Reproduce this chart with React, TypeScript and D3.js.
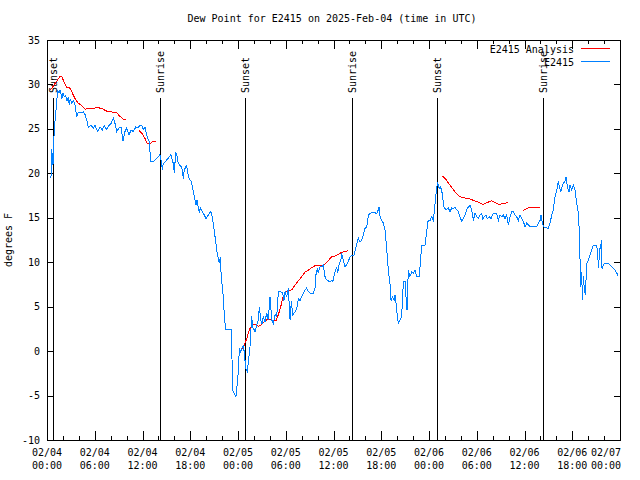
import React from 'react';
import * as d3 from 'd3';

const W = 640;
const H = 480;
const PLOT = { left: 47, right: 620, top: 40, bottom: 440 };
const FONT = '"DejaVu Sans Mono", monospace';

const titleText = 'Dew Point for E2415 on 2025-Feb-04 (time in UTC)';
const yLabel = 'degrees F';
const startUTC = Date.UTC(2025, 1, 4, 0, 0);
const spanHours = 72;
const yDomain: [number, number] = [-10, 35];
const yTickValues = [-10, -5, 0, 5, 10, 15, 20, 25, 30, 35];

// Sun events: [label, hours after 02/04 00:00 UTC]
const sunEvents: [string, number][] = [
  ['Sunset', 0.79], ['Sunrise', 14.21], ['Sunset', 24.92],
  ['Sunrise', 38.36], ['Sunset', 49.04], ['Sunrise', 62.37],
];

// E2415 observations: [hour, dew point F]
const obs: [number, number][] = [
  [0.50, 19.5], [0.59, 22.7], [0.75, 20.9], [0.92, 25.1], [1.09, 26.6], [1.34, 29.4], [1.51, 29.0], [1.67, 29.4],
  [1.85, 28.4], [2.01, 29.0], [2.17, 28.6], [2.35, 28.8], [2.51, 28.1], [2.68, 28.6], [2.80, 27.7], [2.93, 28.4],
  [3.10, 27.9], [3.30, 28.2], [3.52, 27.7], [3.73, 26.4], [3.93, 26.9], [4.27, 26.8], [4.56, 26.9], [4.78, 26.6],
  [4.99, 26.0], [5.19, 25.2], [5.53, 25.4], [5.82, 25.1], [6.03, 25.4], [6.37, 24.7], [6.66, 25.2], [6.95, 24.9],
  [7.20, 25.4], [7.50, 24.9], [7.79, 25.4], [8.04, 25.6], [8.33, 26.2], [8.55, 25.6], [8.76, 24.7], [9.05, 25.1],
  [9.30, 25.2], [9.55, 23.6], [9.80, 24.7], [10.02, 25.1], [10.30, 24.3], [10.56, 24.9], [10.84, 24.7], [11.15, 25.2],
  [11.40, 25.1], [11.69, 25.4], [11.90, 25.4], [12.10, 24.9], [12.31, 25.2], [12.53, 24.3], [12.82, 23.6], [13.07, 21.3],
  [13.36, 21.3], [13.78, 21.7], [13.99, 21.9], [14.20, 22.1], [14.41, 21.1], [14.49, 20.4], [14.61, 21.1], [15.04, 21.5],
  [15.58, 22.1], [15.87, 21.1], [16.00, 20.0], [16.17, 22.4], [16.34, 21.9], [16.50, 21.1], [16.71, 20.9], [16.93, 20.7],
  [17.13, 19.4], [17.25, 20.4], [17.43, 20.7], [17.56, 20.9], [17.68, 20.0], [17.88, 19.4], [18.10, 19.1], [18.26, 18.5],
  [18.43, 17.8], [18.60, 17.0], [18.72, 16.4], [18.85, 17.0], [19.01, 16.2], [19.14, 15.5], [19.26, 16.1], [19.52, 15.7],
  [19.77, 15.3], [19.98, 14.9], [20.27, 15.3], [20.57, 15.7], [20.77, 15.1], [20.95, 14.0], [21.11, 12.9], [21.32, 11.4],
  [21.53, 10.4], [21.65, 9.9], [21.78, 10.6], [21.87, 8.8], [22.03, 7.2], [22.16, 6.1], [22.28, 3.9], [22.46, 2.4],
  [23.16, 2.4], [23.25, -1.0], [23.34, -4.4], [23.62, -4.9], [23.75, -5.1], [23.91, -3.6], [24.04, -2.3], [24.17, 0.3],
  [24.34, -0.1], [24.50, 0.3], [24.67, 0.7], [24.79, -0.2], [24.97, -1.9], [25.17, -2.3], [25.35, -0.8], [25.51, 0.5],
  [25.72, 3.9], [25.85, 2.7], [26.14, 2.2], [26.35, 2.9], [26.55, 3.5], [26.68, 5.0], [26.85, 3.5], [27.02, 3.1],
  [27.18, 3.9], [27.39, 3.3], [27.61, 4.3], [27.81, 3.5], [28.02, 6.1], [28.24, 3.5], [28.44, 3.1], [28.65, 4.1],
  [28.86, 3.9], [29.07, 6.7], [29.37, 6.7], [29.62, 6.5], [29.78, 5.7], [29.91, 6.7], [30.12, 6.1], [30.32, 7.1],
  [30.54, 3.5], [30.70, 5.6], [30.88, 4.1], [31.16, 4.4], [31.38, 4.8], [31.58, 5.9], [31.79, 5.7], [32.01, 6.1],
  [32.30, 6.7], [32.63, 7.1], [32.84, 6.7], [33.14, 6.5], [33.46, 6.5], [33.68, 7.1], [33.80, 8.6], [33.97, 9.3],
  [34.09, 8.8], [34.31, 9.5], [34.52, 9.5], [34.72, 9.7], [34.93, 8.4], [35.14, 8.0], [35.56, 7.8], [35.78, 8.0],
  [35.90, 7.8], [36.19, 8.9], [36.40, 9.5], [36.53, 8.8], [36.73, 9.9], [36.91, 10.1], [37.03, 11.0], [37.23, 10.2],
  [37.45, 9.5], [37.66, 9.7], [37.86, 10.1], [38.08, 10.6], [38.29, 10.8], [38.58, 10.8], [38.92, 12.1], [39.12, 12.7],
  [39.33, 12.3], [39.55, 12.5], [39.75, 13.1], [39.96, 13.8], [40.18, 14.0], [40.38, 15.3], [40.59, 15.5], [41.00, 15.6],
  [41.43, 15.5], [41.63, 15.9], [41.72, 16.2], [41.85, 15.1], [42.06, 14.7], [42.26, 14.4], [42.48, 13.6], [42.69, 11.4],
  [42.89, 9.1], [43.10, 7.6], [43.23, 5.7], [43.39, 6.1], [43.61, 5.7], [43.73, 6.3], [43.86, 5.4], [44.02, 3.9],
  [44.15, 3.1], [44.36, 3.5], [44.57, 3.9], [44.70, 6.7], [44.82, 7.8], [44.99, 7.8], [45.11, 6.1], [45.24, 4.6],
  [45.40, 9.1], [45.61, 8.4], [45.83, 8.9], [46.03, 8.8], [46.24, 9.1], [46.46, 8.4], [46.75, 8.4], [46.87, 9.5],
  [47.09, 11.9], [47.50, 11.9], [47.71, 13.4], [47.84, 14.6], [48.13, 14.7], [48.34, 15.1], [48.54, 14.7], [48.67, 15.7],
  [48.85, 17.4], [48.97, 18.5], [49.10, 18.9], [49.26, 18.3], [49.42, 18.5], [49.60, 18.1], [49.72, 17.2], [49.89, 16.2],
  [50.14, 15.9], [50.43, 16.1], [50.64, 15.7], [50.86, 16.1], [51.06, 16.0], [51.27, 16.2], [51.48, 15.9], [51.69, 15.7],
  [51.90, 15.1], [52.11, 14.6], [52.31, 14.9], [52.53, 15.3], [52.74, 15.9], [52.94, 16.2], [53.16, 16.4], [53.37, 15.9],
  [53.57, 14.7], [53.78, 15.5], [54.00, 15.1], [54.20, 14.9], [54.41, 15.3], [54.63, 15.5], [54.75, 14.9], [54.95, 15.1],
  [55.17, 15.3], [55.33, 14.9], [55.58, 15.1], [55.79, 14.9], [56.08, 15.5], [56.51, 15.5], [56.71, 14.7], [56.92, 15.3],
  [57.14, 15.1], [57.34, 15.3], [57.55, 14.9], [57.77, 15.3], [57.97, 14.2], [58.18, 15.1], [58.39, 15.7], [58.60, 15.7],
  [58.81, 15.3], [59.02, 15.1], [59.23, 14.7], [59.44, 15.3], [59.65, 14.9], [59.85, 14.6], [60.07, 14.0], [60.28, 14.4],
  [60.48, 14.2], [60.69, 14.0], [61.54, 14.0], [61.74, 14.4], [61.95, 14.7], [62.08, 15.3], [62.20, 14.6], [62.37, 14.0],
  [62.99, 13.8], [63.21, 14.4], [63.42, 15.3], [63.62, 15.9], [63.84, 17.4], [64.05, 18.1], [64.25, 19.1], [64.38, 18.5],
  [64.55, 17.9], [64.72, 18.5], [64.88, 18.9], [65.09, 19.1], [65.22, 19.6], [65.38, 18.5], [65.60, 17.9], [65.72, 18.7],
  [65.94, 18.1], [66.14, 18.7], [66.35, 18.1], [66.56, 16.6], [66.77, 15.5], [66.89, 13.3], [66.98, 10.2], [67.07, 7.2],
  [67.19, 8.9], [67.27, 5.7], [67.40, 8.4], [67.52, 6.9], [67.65, 6.3], [67.73, 8.0], [67.82, 9.9], [68.02, 10.2],
  [68.23, 10.8], [68.45, 11.4], [68.65, 11.9], [69.08, 11.9], [69.20, 10.6], [69.33, 9.3], [69.40, 11.4], [69.58, 11.7],
  [69.65, 12.5], [69.74, 9.3], [69.91, 9.7], [70.12, 9.9], [70.54, 9.9], [70.75, 9.7], [71.16, 9.3], [71.38, 9.1],
  [71.59, 8.8], [71.79, 8.4],
];

// E2415 Analysis: segments separated by gaps
const analysisA: [number, number][] = [
  [0.45, 29.4], [1.01, 30.1], [1.63, 30.9], [1.85, 30.9], [2.14, 30.3], [2.48, 29.7], [2.80, 29.7], [3.10, 29.2],
  [3.52, 28.4], [3.93, 27.9], [4.36, 27.6], [4.78, 27.2], [5.19, 27.3], [5.82, 27.3], [6.32, 27.4], [6.87, 27.3],
  [7.50, 27.0], [8.13, 26.9], [8.76, 26.8], [9.17, 26.4], [9.59, 26.1], [9.93, 26.1],
];
const analysisB: [number, number][] = [
  [11.60, 24.8], [12.03, 24.4], [12.32, 23.9], [12.60, 23.3], [13.03, 23.4], [13.36, 23.6], [13.70, 23.6],
];
const analysisC: [number, number][] = [
  [24.57, 0.2], [24.88, 0.9], [25.10, 1.4], [25.43, 2.4], [25.72, 2.9], [26.14, 3.0], [26.55, 2.8], [26.98, 3.0],
  [27.39, 3.4], [27.81, 3.6], [28.24, 3.5], [28.78, 3.4], [29.07, 4.1], [29.37, 5.0], [29.69, 6.2], [30.03, 6.7],
  [30.45, 6.8], [30.75, 6.9], [31.16, 7.4], [31.58, 7.9], [32.01, 8.4], [32.42, 8.9], [32.84, 9.1], [33.26, 9.4],
  [33.68, 9.6], [34.72, 9.6], [35.06, 9.9], [35.35, 10.2], [35.78, 10.6], [36.19, 10.7], [36.61, 10.9], [37.03, 11.1],
  [37.45, 11.2], [37.86, 11.3],
];
const analysisD: [number, number][] = [
  [49.72, 19.7], [50.14, 19.3], [50.43, 18.9], [50.86, 18.4], [51.27, 17.9], [51.69, 17.5], [52.11, 17.3], [52.65, 17.2],
  [53.16, 17.1], [53.78, 16.9], [54.32, 16.7], [54.82, 16.5], [55.25, 16.7], [55.88, 16.9], [56.30, 16.7], [56.84, 16.5],
  [57.34, 16.6], [57.97, 16.7],
];
const analysisE: [number, number][] = [
  [59.78, 15.8], [60.19, 16.0], [60.69, 16.2], [61.95, 16.2],
];
const analysisSegments = [analysisA, analysisB, analysisC, analysisD, analysisE];

const seriesNames = ['E2415 Analysis', 'E2415'];
const seriesColors = ['#ff0000', '#0080ff'];

const toDate = (h: number) => new Date(startUTC + h * 3600 * 1000);

export default function App() {
  const x = d3.scaleUtc()
    .domain([toDate(0), toDate(spanHours)])
    .range([PLOT.left, PLOT.right]);
  const y = d3.scaleLinear().domain(yDomain).range([PLOT.bottom, PLOT.top]);

  const line = d3.line<[number, number]>()
    .x((d) => x(toDate(d[0])))
    .y((d) => y(d[1]));

  const majorTicks = x.ticks(d3.utcHour.every(6)!);
  const minorTicks = x.ticks(d3.utcHour.every(2)!).filter((t) => t.getUTCHours() % 6 !== 0);
  const fmtDay = d3.utcFormat('%m/%d');
  const fmtTime = d3.utcFormat('%H:%M');

  const majorLen = 9;
  const minorLen = 4;
  const yTickLen = 6;

  return (
    <svg width={W} height={H} style={{ position: 'absolute', left: 0, top: 0, background: '#fff' }}
      fontFamily={FONT} fontSize={10}>
      <rect x={0} y={0} width={W} height={H} fill="#fff" />
      <text x={332} y={22} textAnchor="middle" fill="#000">{titleText}</text>
      <text transform={`translate(12,${(PLOT.top + PLOT.bottom) / 2}) rotate(-90)`} textAnchor="middle" fill="#000">{yLabel}</text>

      {/* y ticks */}
      {yTickValues.map((v) => (
        <g key={`y${v}`} shapeRendering="crispEdges">
          <line x1={PLOT.left} x2={PLOT.left + yTickLen} y1={Math.round(y(v)) + 0.5} y2={Math.round(y(v)) + 0.5} stroke="#000" />
          <line x1={PLOT.right - yTickLen} x2={PLOT.right} y1={Math.round(y(v)) + 0.5} y2={Math.round(y(v)) + 0.5} stroke="#000" />
          <text x={PLOT.left - 7} y={y(v)} dy="0.35em" textAnchor="end" fill="#000">{v}</text>
        </g>
      ))}

      {/* x ticks */}
      {minorTicks.map((t) => (
        <g key={`m${+t}`} shapeRendering="crispEdges">
          <line x1={Math.round(x(t)) + 0.5} x2={Math.round(x(t)) + 0.5} y1={PLOT.bottom} y2={PLOT.bottom - minorLen} stroke="#000" />
          <line x1={Math.round(x(t)) + 0.5} x2={Math.round(x(t)) + 0.5} y1={PLOT.top} y2={PLOT.top + minorLen} stroke="#000" />
        </g>
      ))}
      {majorTicks.map((t) => {
        const cx = Math.min(x(t), W - 34);
        return (
          <g key={`M${+t}`}>
            <line x1={Math.round(x(t)) + 0.5} x2={Math.round(x(t)) + 0.5} y1={PLOT.bottom} y2={PLOT.bottom - majorLen} stroke="#000" shapeRendering="crispEdges" />
            <line x1={Math.round(x(t)) + 0.5} x2={Math.round(x(t)) + 0.5} y1={PLOT.top} y2={PLOT.top + majorLen} stroke="#000" shapeRendering="crispEdges" />
            <text x={cx} y={PLOT.bottom + 16} textAnchor="middle" fill="#000">{fmtDay(t)}</text>
            <text x={cx} y={PLOT.bottom + 29} textAnchor="middle" fill="#000">{fmtTime(t)}</text>
          </g>
        );
      })}

      {/* sun events */}
      {sunEvents.map(([label, h], i) => {
        const sx = Math.round(x(toDate(h))) + 0.5;
        return (
          <g key={`s${i}`}>
            <line x1={sx} x2={sx} y1={98} y2={PLOT.bottom} stroke="#000" shapeRendering="crispEdges" />
            <text transform={`translate(${sx},93) rotate(-90)`} dy="0.35em" textAnchor="start" fill="#000">{label}</text>
          </g>
        );
      })}

      {/* data */}
      {analysisSegments.map((seg, i) => (
        <path key={`a${i}`} d={line(seg) ?? ''} fill="none" stroke={seriesColors[0]} strokeWidth={1} shapeRendering="crispEdges" />
      ))}
      <path d={line(obs) ?? ''} fill="none" stroke={seriesColors[1]} strokeWidth={1} shapeRendering="crispEdges" />

      {/* frame */}
      <rect x={PLOT.left + 0.5} y={PLOT.top + 0.5} width={PLOT.right - PLOT.left} height={PLOT.bottom - PLOT.top}
        fill="none" stroke="#000" shapeRendering="crispEdges" />

      {/* legend */}
      {seriesNames.map((name, i) => (
        <g key={name}>
          <text x={574} y={49 + i * 13} dy="0.35em" textAnchor="end" fill="#000">{name}</text>
          <line x1={581} x2={610} y1={48.5 + i * 13} y2={48.5 + i * 13} stroke={seriesColors[i]} shapeRendering="crispEdges" />
        </g>
      ))}
    </svg>
  );
}
